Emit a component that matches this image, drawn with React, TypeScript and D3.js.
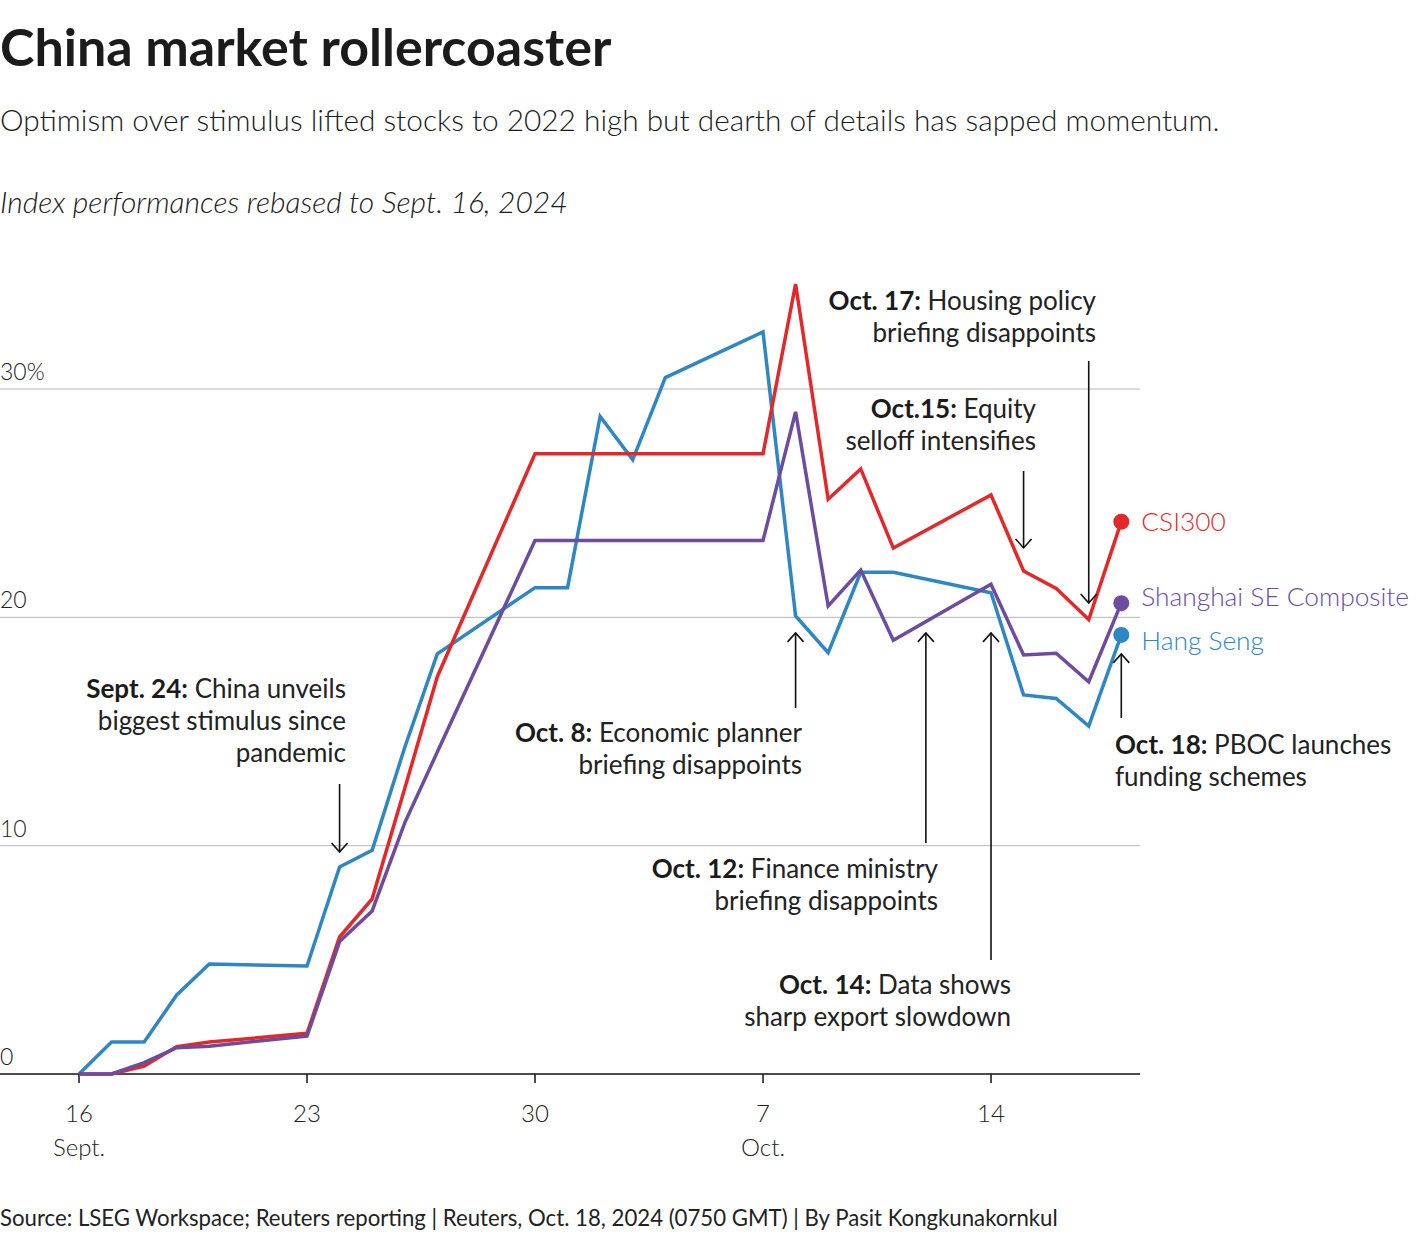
import React from "react";
import * as d3 from "d3";

const dates = [
  "2024-09-16", "2024-09-17", "2024-09-18", "2024-09-19", "2024-09-20",
  "2024-09-23", "2024-09-24", "2024-09-25", "2024-09-26", "2024-09-27",
  "2024-09-30", "2024-10-01", "2024-10-02", "2024-10-03", "2024-10-04",
  "2024-10-07", "2024-10-08", "2024-10-09", "2024-10-10", "2024-10-11",
  "2024-10-14", "2024-10-15", "2024-10-16", "2024-10-17", "2024-10-18",
];
const csi300 = [
  0, 0, 0.35, 1.2, 1.4,
  1.78, 6.0, 7.67, 12.5, 17.4,
  27.16, 27.16, 27.16, 27.16, 27.16,
  27.16, 34.6, 25.17, 26.5, 23.03,
  25.36, 22.03, 21.27, 19.9, 24.19,
];
const shanghai = [
  0, 0, 0.5, 1.15, 1.22,
  1.66, 5.8, 7.14, 11.0, 14.1,
  23.36, 23.36, 23.36, 23.36, 23.36,
  23.36, 29.0, 20.5, 22.07, 19.0,
  21.45, 18.35, 18.43, 17.18, 20.62,
];
const hangSeng = [
  0, 1.4, 1.4, 3.46, 4.82,
  4.73, 9.07, 9.8, 14.3, 18.4,
  21.3, 21.3, 28.8, 26.9, 30.5,
  32.5, 20.06, 18.45, 21.97, 21.97,
  21.08, 16.6, 16.45, 15.24, 19.23,
];
const seriesNames = ["Hang Seng", "CSI300", "Shanghai SE Composite"];
const seriesColors = ["#2f86c4", "#e3282a", "#6b4c9f"];
const labelShift = [6, 0, -6];

const yTicks = [0, 10, 20, 30];
const yTickLabels = ["0", "10", "20", "30%"];
const xTicks = ["2024-09-16", "2024-09-23", "2024-09-30", "2024-10-07", "2024-10-14"];
const xTickLabels = ["16", "23", "30", "7", "14"];
const xMonthLabels = ["Sept.", "", "", "Oct.", ""];

// arrows: date, from value, to (tip) value
const arrowDates = ["2024-09-24", "2024-10-08", "2024-10-12", "2024-10-14", "2024-10-15", "2024-10-17", "2024-10-18"];
const arrowFrom = [12.7, 16.03, 10.12, 4.99, 26.41, 31.23, 15.59];
const arrowTo = [9.72, 19.32, 19.32, 19.32, 23.04, 20.63, 18.4];

const notes = [
  { bold: "Sept. 24:", lines: [" China unveils", "biggest stimulus since", "pandemic"], x: 346, y: 698, anchor: "end" },
  { bold: "Oct. 8:", lines: [" Economic planner", "briefing disappoints"], x: 802, y: 742, anchor: "end" },
  { bold: "Oct. 12:", lines: [" Finance ministry", "briefing disappoints"], x: 938, y: 878, anchor: "end" },
  { bold: "Oct. 14:", lines: [" Data shows", "sharp export slowdown"], x: 1011, y: 994, anchor: "end" },
  { bold: "Oct.15:", lines: [" Equity", "selloff intensifies"], x: 1036, y: 418, anchor: "end" },
  { bold: "Oct. 17:", lines: [" Housing policy", "briefing disappoints"], x: 1096, y: 310, anchor: "end" },
  { bold: "Oct. 18:", lines: [" PBOC launches", "funding schemes"], x: 1115, y: 754, anchor: "start" },
];

const FONT = "Lato, 'Noto Sans', sans-serif";

export default function App() {
  const parse = (s: string) => new Date(s + "T00:00:00Z");
  const x = d3.scaleUtc().domain([parse("2024-09-16"), parse("2024-10-18")]).range([79, 1121.3]);
  const y = d3.scaleLinear().domain([0, 30]).range([1074, 389]);
  const series = [hangSeng, csi300, shanghai];
  const line = d3
    .line<number>()
    .x((_, i) => x(parse(dates[i])))
    .y((v) => y(v));
  const last = dates.length - 1;
  const xEnd = x(parse(dates[last]));

  return (
    <div>
      <style>{"body{margin:0;background:#fff}"}</style>
      <svg width={1420} height={1240} style={{ display: "block", fontFamily: FONT }}>
        <rect width={1420} height={1240} fill="#fff" />
        <text x={0} y={66} fontSize={52} fontWeight={700} fill="#1b1b1b">
          China market rollercoaster
        </text>
        <text x={0} y={131} fontSize={29.8} fontWeight={300} fill="#1b1b1b">
          Optimism over stimulus lifted stocks to 2022 high but dearth of details has sapped momentum.
        </text>
        <text x={0} y={213} fontSize={30} fontWeight={300} fontStyle="italic" fill="#1b1b1b">
          Index performances rebased to Sept. 16, 2024
        </text>

        {yTicks.map((t, i) => (
          <g key={"y" + t}>
            {t !== 0 && <line x1={0} x2={1140} y1={y(t)} y2={y(t)} stroke="#b8b8b8" strokeWidth={1} />}
            <text x={0} y={y(t) - 9} fontSize={23} fontWeight={300} fill="#222">
              {yTickLabels[i]}
            </text>
          </g>
        ))}
        <line x1={0} x2={1140} y1={y(0)} y2={y(0)} stroke="#111" strokeWidth={1.5} />
        {xTicks.map((t, i) => {
          const xx = x(parse(t));
          return (
            <g key={"x" + t}>
              <line x1={xx} x2={xx} y1={y(0)} y2={y(0) + 9} stroke="#111" strokeWidth={1.5} />
              <text x={xx} y={1122} fontSize={24} fontWeight={300} textAnchor="middle" fill="#222">
                {xTickLabels[i]}
              </text>
              {xMonthLabels[i] && (
                <text x={xx} y={1156} fontSize={24} fontWeight={300} textAnchor="middle" fill="#222">
                  {xMonthLabels[i]}
                </text>
              )}
            </g>
          );
        })}

        {series.map((s, k) => (
          <path key={"s" + k} d={line(s) || ""} fill="none" stroke={seriesColors[k]} strokeWidth={3.5} strokeLinejoin="miter" />
        ))}
        {series.map((s, k) => (
          <g key={"e" + k}>
            <circle cx={xEnd} cy={y(s[last])} r={8} fill={seriesColors[k]} />
            <text x={xEnd + 20} y={y(s[last]) + 9 + labelShift[k]} fontSize={26.3} fontWeight={300} fill={seriesColors[k]}>
              {seriesNames[k]}
            </text>
          </g>
        ))}

        {arrowDates.map((d, i) => {
          const xx = x(parse(d));
          const y1 = y(arrowFrom[i]);
          const y2 = y(arrowTo[i]);
          const dir = y2 > y1 ? 1 : -1;
          return (
            <g key={"a" + i} stroke="#111" strokeWidth={1.6} fill="none">
              <line x1={xx} x2={xx} y1={y1} y2={y2} />
              <path d={`M${xx - 8},${y2 - dir * 9}L${xx},${y2}L${xx + 8},${y2 - dir * 9}`} />
            </g>
          );
        })}

        {notes.map((n, i) => (
          <text key={"n" + i} x={n.x} y={n.y} fontSize={26} fill="#222" textAnchor={n.anchor as any}>
            {n.lines.map((l, j) =>
              j === 0 ? (
                <tspan key={j}>
                  <tspan fontWeight={700} fill="#1b1b1b">{n.bold}</tspan>
                  <tspan>{l}</tspan>
                </tspan>
              ) : (
                <tspan key={j} x={n.x} dy={32}>{l}</tspan>
              )
            )}
          </text>
        ))}

        <text x={0} y={1226} fontSize={22.2} fill="#222">
          Source: LSEG Workspace; Reuters reporting | Reuters, Oct. 18, 2024 (0750 GMT) | By Pasit Kongkunakornkul
        </text>
      </svg>
    </div>
  );
}
